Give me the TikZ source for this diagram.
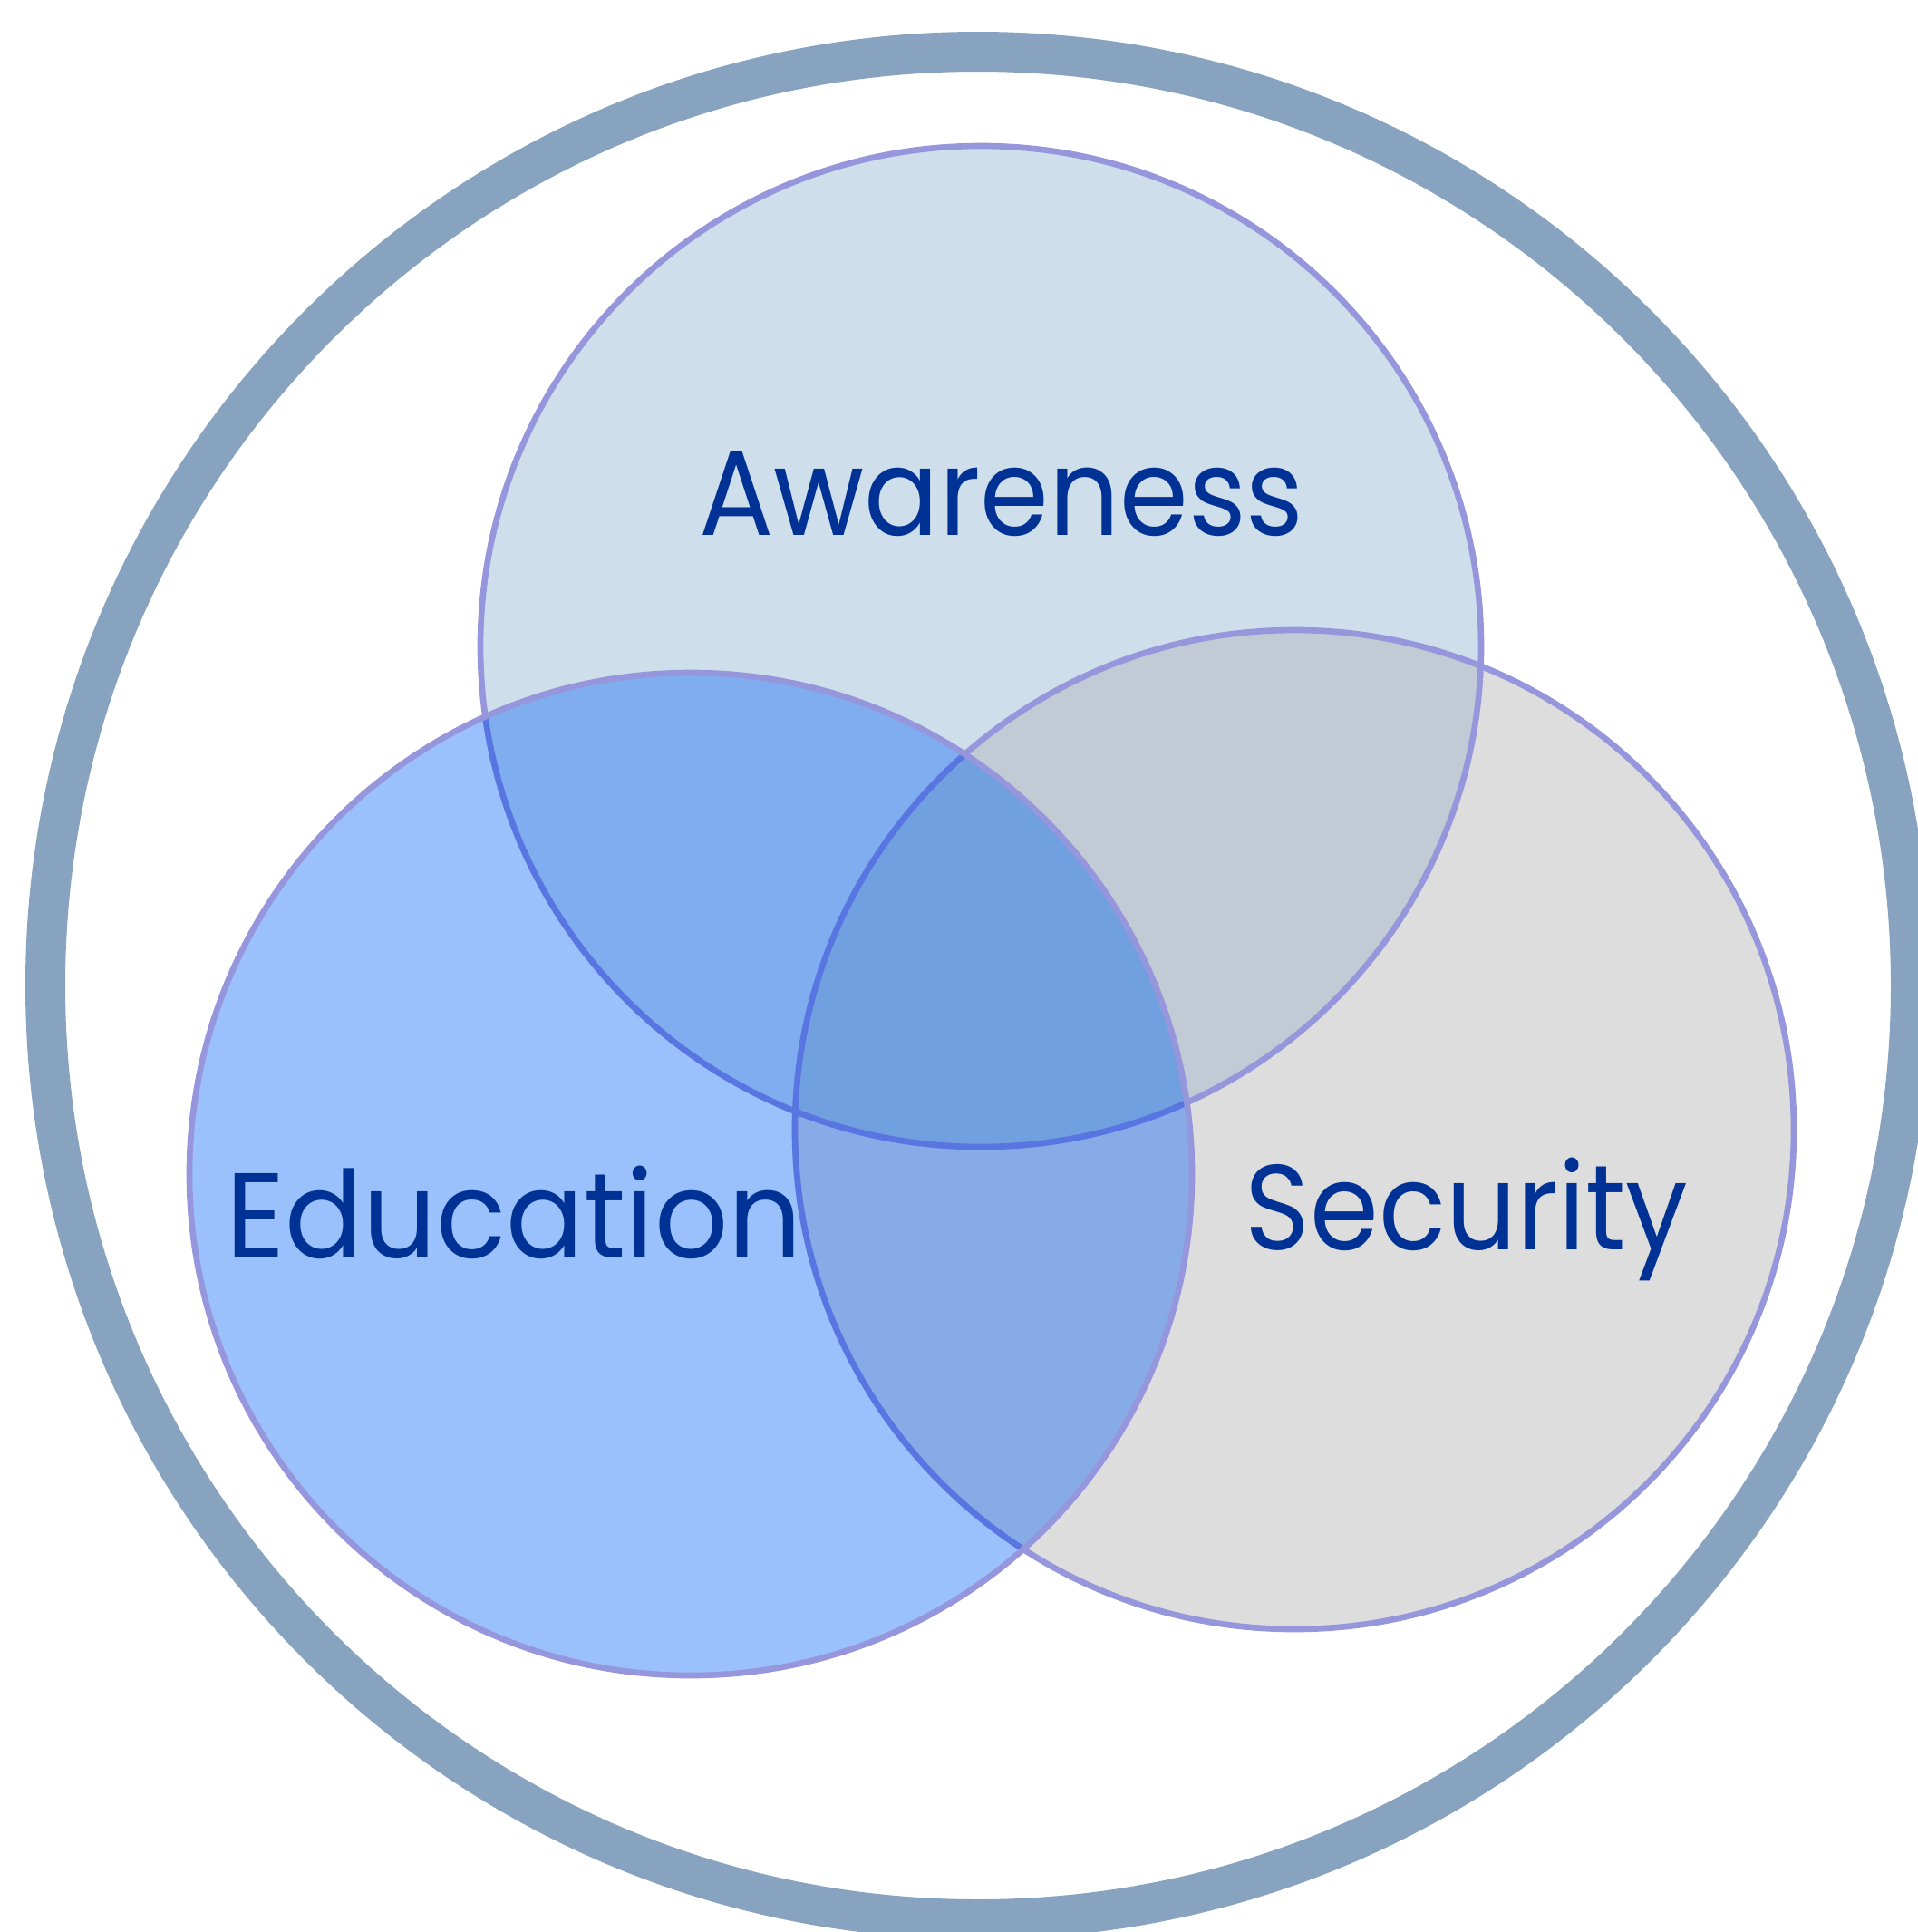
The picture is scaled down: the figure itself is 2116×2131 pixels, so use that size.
\documentclass[tikz,border=0pt]{standalone}
\usepackage{fontspec}
\setmainfont{Poppins}
\definecolor{ringc}{RGB}{135,163,191}
\definecolor{aw}{RGB}{207,222,235}
\definecolor{se}{RGB}{221,221,221}
\definecolor{ed}{RGB}{154,193,252}
\definecolor{awed}{RGB}{127,173,240}
\definecolor{awse}{RGB}{194,202,213}
\definecolor{edse}{RGB}{134,171,230}
\definecolor{allc}{RGB}{113,160,224}
\definecolor{bdc}{RGB}{150,150,220}
\definecolor{bdin}{RGB}{88,118,226}
\definecolor{txt}{RGB}{0,50,150}
\tikzset{
  ring/.style={draw=ringc, line width=13.2pt},
  venn/.style={draw=bdc, line width=2pt},
  vennin/.style={draw=bdin, line width=2pt},
  label/.style={text=txt, font=\fontsize{40}{48}\selectfont, anchor=base, inner sep=0pt}
}
\begin{document}
\begin{tikzpicture}[x=0.3pt,y=-0.3pt]
\useasboundingbox (0,0) rectangle (2116,2131);
\coordinate (ca) at (1082,713);
\coordinate (ce) at (762,1295);
\coordinate (cs) at (1428,1246);
\coordinate (co) at (1079,1087);
% outer ring
\draw[ring] (co) ellipse [x radius=1029, y radius=1030];
% solo fills
\fill[aw] (ca) circle [radius=552];
\fill[se] (cs) circle [radius=551];
\fill[ed] (ce) circle [radius=553];
% pairwise overlaps
\begin{scope}
  \clip (ca) circle [radius=552];
  \fill[awed] (ce) circle [radius=553];
  \fill[awse] (cs) circle [radius=551];
\end{scope}
\begin{scope}
  \clip (ce) circle [radius=553];
  \fill[edse] (cs) circle [radius=551];
  \clip (cs) circle [radius=551];
  \fill[allc] (ca) circle [radius=552];
\end{scope}
% borders
\draw[venn] (ca) circle [radius=552];
\draw[venn] (cs) circle [radius=551];
\begin{scope}
  \clip (ce) circle [radius=553];
  \draw[vennin] (ca) circle [radius=552];
  \draw[vennin] (cs) circle [radius=551];
\end{scope}
\draw[venn] (ce) circle [radius=553];
% labels
\node[label] (la) at (1105,590) {\scalebox{0.915}[1]{Awareness}};
\node[label] (le) at (567,1387) {\scalebox{0.953}[1]{Education}};
\node[label] (ls) at (1618,1378) {\scalebox{0.916}[1]{Security}};
\end{tikzpicture}
\end{document}
